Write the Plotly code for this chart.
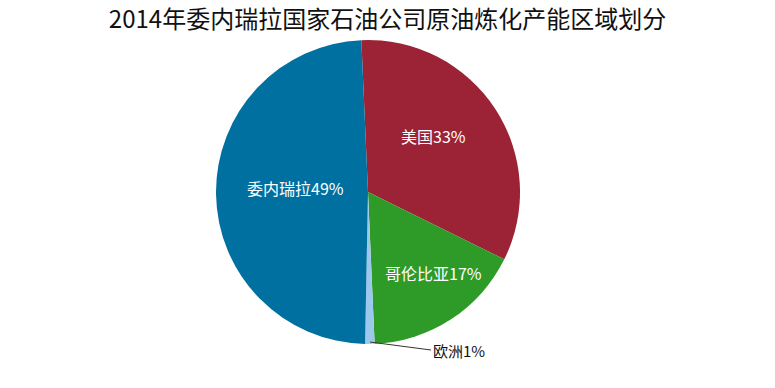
import plotly.graph_objects as go

regions = ["美国", "哥伦比亚", "欧洲", "委内瑞拉"]
shares = [33, 17, 1, 49]
colors = ["#9B2335", "#2E9A28", "#9CC9EB", "#0070A0"]
title_text = "2014年委内瑞拉国家石油公司原油炼化产能区域划分"

W, H = 775, 388
ml, mr, mt, mb = 0, 39, 40, 44
pw, ph = W - ml - mr, H - mt - mb

texts = [f"{r}{s}%" for r, s in zip(regions, shares)]
fig = go.Figure(go.Pie(
    labels=regions,
    values=shares,
    textinfo="none",
    sort=False,
    direction="clockwise",
    rotation=-2.5,
    marker=dict(colors=colors, line=dict(width=0)),
    hoverinfo="label+percent",
    showlegend=False,
))

def px2paper(x, y):
    return (x - ml) / pw, 1 - (y - mt) / ph

# label placement (pixels) for the inside labels
label_pos = {"美国": (433, 136), "哥伦比亚": (433, 273), "委内瑞拉": (295, 188)}
for r, t in zip(regions, texts):
    if r in label_pos:
        x, y = px2paper(*label_pos[r])
        fig.add_annotation(x=x, y=y, xref="paper", yref="paper", text=t,
                           showarrow=False, xanchor="center", yanchor="middle",
                           font=dict(family="Noto Sans CJK SC", size=16, color="white"))

# leader line + label for the tiny Europe slice
tx, ty = px2paper(370, 342)
fig.add_annotation(
    x=tx, y=ty, xref="paper", yref="paper",
    text=texts[2], showarrow=True, arrowhead=0, arrowwidth=1, arrowcolor="#333",
    ax=61, ay=8, xanchor="left", yanchor="middle",
    font=dict(family="Noto Sans CJK SC", size=15, color="#111"),
)

fig.update_layout(
    width=W, height=H,
    margin=dict(l=ml, r=mr, t=mt, b=mb),
    paper_bgcolor="white", plot_bgcolor="white",
    title=dict(text=title_text, x=0.5, xanchor="center", xref="container",
               y=0.95, yanchor="middle",
               font=dict(family="Noto Sans CJK SC", size=24, color="#111")),
)
fig.write_html("out.html")
